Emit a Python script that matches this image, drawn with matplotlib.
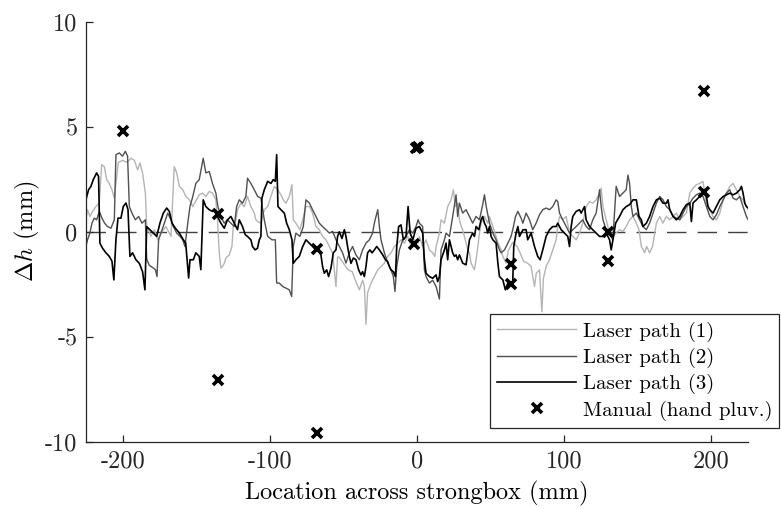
"""Surface height deviation across the strongbox: laser scans vs manual readings.

Writes out.png (781x509).
"""

import matplotlib

matplotlib.use("Agg")
import matplotlib.pyplot as plt

# --- laser path (1), light grey -------------------------------------------
x1 = [-225, -223.9, -222.3, -220.5, -218.2, -215.9, -214.3, -212.5, -210.9, -209.1,
      -207.3, -205.7, -203, -200, -197, -194.4, -192.1, -189.9, -188.3, -186.5,
      -184.6, -183.7, -183, -180.8, -178.5, -176.2, -174, -170.6, -167.2, -165,
      -163.3, -161.5, -159.2, -157, -154.7, -152.4, -150, -148, -145.8, -143.5,
      -141.2, -139, -136.7, -135.6, -134.4, -133.3, -132.2, -131, -129.9, -127.6,
      -125.8, -124.9, -123.1, -122, -119.7, -117.4, -115.2, -112.9, -110.6, -109.5,
      -108.3, -106.1, -103.8, -101.5, -99.3, -97, -94.7, -92.5, -90.9, -89.1,
      -86.8, -85, -84.1, -82.3, -79.6, -77.7, -75.5, -73, -71, -69.8,
      -68.7, -66.4, -64.2, -61.9, -59.6, -57.4, -55.1, -54, -53, -50,
      -47, -44, -42, -39.2, -37, -35.8, -34.7, -33.6, -31.3, -29,
      -26.7, -24.5, -22.2, -19.9, -17.7, -15.4, -13.1, -10.8, -8.6, -6.3,
      -4, -1.8, 0.7, 1.6, 3.8, 6.1, 8.4, 10.6, 12, 13,
      15.2, 16.3, 18.6, 20.8, 23.1, 24.7, 26, 27.6, 28.8, 30,
      31, 33.3, 34.5, 35.6, 36.7, 37.8, 39, 40.1, 41.3, 42.4,
      43.5, 44.6, 45.8, 47, 48, 49.2, 51.5, 53.7, 55, 57.1,
      58.3, 59.4, 60.5, 62, 65, 68, 70, 72.4, 75.2, 77.5,
      79.8, 81, 83.2, 84.8, 85.9, 87.7, 90, 92.2, 94.5, 95.6,
      96.8, 99, 101.3, 103.6, 105.8, 108.1, 110.4, 112.6, 114.9, 117.2,
      119.4, 121.7, 124, 125.1, 126.3, 128.5, 130.8, 133, 135.3, 137.6,
      139.9, 142.1, 144.4, 146.7, 149, 150.8, 152.4, 154.6, 156, 158,
      160, 162.6, 164.9, 167, 169.4, 171.7, 174, 176.2, 178.5, 180.7,
      183, 185.3, 187.5, 189.8, 192, 194.3, 196.6, 198.9, 201.1, 203.4,
      205.7, 208, 210.2, 212.5, 214.7, 217, 219.3, 221.5, 223.8, 225]
y1 = [0.57, 1.05, 0.73, 0.97, 1.2, 1.37, 3.19, 3.1, 2.48, 2.3,
      2.0, 1.6, 3.3, 3.4, 3.3, 3.5, 3.4, 2.95, 3.27, 2.8,
      1.84, 0.25, 0.17, -0.22, 0.1, -0.38, -0.06, 0.25, -0.22, 3.1,
      2.8, 2.16, 2.0, 1.68, 1.52, 1.2, 1.5, 1.76, 1.84, 1.68,
      1.92, 1.84, 1.52, 0.57, -1.0, -1.73, -1.65, -1.5, -1.25, -1.1,
      -0.7, 0.25, 0.57, 1.05, 1.36, 1.2, 1.68, 1.2, 0.89, 0.57,
      0.49, 0.41, 1.05, 1.2, 1.68, 2.16, 2.0, 1.76, 1.52, 1.36,
      1.68, 2.24, 0.57, 0.41, 0.1, 0.57, 1.2, 1.2, 0.89, 0.57,
      0.25, 0.1, -0.22, -0.38, -0.7, -1.0, -2.6, -1.2, -1.2, -1.5,
      -1.8, -1.9, -2.3, -2.76, -2.3, -2.6, -4.4, -2.9, -2.44, -2.13,
      -1.81, -1.65, -1.49, -1.17, -1.0, -0.7, -0.54, -0.38, -0.54, -0.22,
      -0.7, -0.38, -0.54, -0.22, -0.7, -0.38, -0.86, -1.0, -1.17, -0.7,
      -0.06, 0.57, 0.41, 1.2, 1.52, 2.0, 1.2, 1.36, 0.57, 0.25,
      0.1, -0.54, -0.86, -1.0, -1.49, -1.65, -1.8, -1.33, -0.7, -0.06,
      0.41, 0.57, 0.73, 0.57, 0.41, 0.73, 0.25, -0.22, -0.54, -0.86,
      -1.17, -1.33, -1.49, -0.9, -0.5, -0.7, -1.0, -1.4, -1.5, -1.65,
      -2.6, -1.97, -1.81, -3.8, -2.2, -1.65, -1.33, -0.86, -0.38, 0.25,
      0.73, 0.57, 0.73, -0.06, -0.22, -0.38, -0.06, 0.41, 1.2, 1.44,
      1.36, 1.52, 1.84, 2.08, 1.2, 0.57, -0.06, -0.22, -0.06, 0.1,
      0.02, 0.25, 0.57, 0.73, 0.41, 0.1, -0.7, -1.0, -0.7, -1.0,
      -0.7, 0.41, 0.73, 0.41, 0.73, 0.57, 0.73, 0.89, 0.57, 0.73,
      0.89, 1.84, 2.08, 2.24, 2.3, 2.4, 1.36, 1.05, 0.73, 0.57,
      0.89, 1.52, 1.84, 2.16, 2.3, 2.0, 1.68, 1.52, 1.2, 1.05]

# --- laser path (2), dark grey --------------------------------------------
x2 = [-225, -223.9, -222.3, -220.9, -219.3, -217.7, -215.9, -214.1, -212.3, -210.3,
      -208, -205.7, -204.6, -202.3, -200.1, -198.2, -196.7, -195.5, -193.7, -191.4,
      -189.2, -186.9, -184.6, -183.7, -181.9, -179.6, -177.8, -176.7, -175.6, -174,
      -171.7, -169.4, -167.2, -165.6, -163.3, -161, -159.2, -157.7, -155.8, -154.3,
      -152.4, -150.3, -148, -145.3, -143.5, -141.2, -139, -136.7, -135.3, -133.3,
      -131, -128.8, -126.5, -124.2, -122.6, -120.8, -118.6, -116.3, -115.2, -112.9,
      -110.6, -108.3, -106.1, -103.8, -101.5, -98.6, -96.3, -95.4, -93.6, -91.3,
      -89.1, -86.8, -85.2, -84.1, -82.3, -79.6, -77.3, -75.5, -73.2, -71,
      -68.7, -66.4, -64.2, -61.9, -59.6, -57.4, -55.1, -52.8, -50.6, -49.4,
      -48.3, -46, -43.8, -41.5, -39.2, -37, -34.7, -32.4, -30.2, -29,
      -27.9, -26.7, -25.6, -24.5, -22.2, -19.9, -17.7, -16.1, -15, -13.8,
      -12, -9.7, -7.5, -5.2, -2.9, -0.7, 0.7, 1.6, 3.8, 5,
      6.1, 8.4, 10.6, 12.9, 15.2, 16.3, 18.6, 19.7, 22, 24.2,
      26.5, 27.6, 28.8, 31, 33.3, 35.6, 37.8, 40.1, 42.4, 44.6,
      45.8, 47, 49.2, 51.5, 53.7, 56, 57.1, 59.4, 61.7, 63.9,
      65.5, 66.9, 68.5, 70.7, 71.9, 74.1, 76.4, 78.6, 80.9, 83.2,
      85.4, 87.7, 90, 92.2, 94.5, 95.6, 96.8, 99, 101.3, 103.6,
      105.8, 108.1, 110.4, 112.6, 114.9, 117.2, 119.4, 121.7, 124, 125.1,
      126.3, 128.5, 130.8, 133, 135.3, 137.6, 139.9, 142.1, 143.3, 144.4,
      145.6, 146.7, 149, 151.2, 153.5, 155.8, 158, 160.3, 162.6, 164.9,
      167.1, 169.4, 171.7, 174, 176.2, 178.5, 180.7, 183, 185.3, 187.5,
      189.8, 192, 194.3, 196.6, 198.9, 201.1, 203.4, 205.7, 208, 210.2,
      212.5, 214.7, 217, 219.3, 221.5, 223.8, 225]
y2 = [-0.7, -0.38, -0.06, 0.41, 0.65, 0.57, 0.97, 0.65, 0.41, 0.25,
      0.17, 0.57, 3.67, 3.75, 3.6, 3.83, 3.6, 1.2, 0.89, 0.57,
      0.73, 0.41, 0.57, -1.3, -1.6, -1.7, -1.8, -2.13, -0.38, -0.06,
      0.41, 0.89, 0.57, 0.25, -0.06, -0.22, -0.38, -0.7, 0.41, 1.2,
      1.68, 2.3, 2.48, 3.5, 2.8, 2.87, 2.3, 1.84, 1.2, 0.73,
      0.41, 0.57, 0.41, 0.25, 1.2, 1.52, 1.36, 1.68, 2.55, 2.3,
      2.0, 1.68, 1.6, 0.57, -0.22, -0.38, -0.38, -2.44, -2.44, -2.6,
      -2.68, -2.76, -3.08, -0.7, -0.06, -0.22, 0.25, 1.52, 1.37, 1.05,
      0.73, 0.41, 0.25, 0.1, -0.06, 0.02, -0.38, -0.7, -1.0, -1.25,
      -1.49, -1.0, -0.7, -1.1, -1.33, -0.86, -0.54, -0.38, -0.06, 0.41,
      0.73, 1.05, 0.25, -0.38, -1.0, -1.49, -1.81, -2.13, -2.84, -1.65,
      -0.86, -0.38, -0.22, 0.1, -0.06, 0.25, 0.57, 0.41, 0.25, -1.8,
      -2.13, -2.44, -2.3, -2.6, -3.2, -0.86, -0.38, -0.06, -0.22, 0.73,
      1.76, 0.73, 1.36, 0.89, 1.05, 0.73, 0.41, 0.73, 0.57, 1.29,
      1.76, 1.2, 0.41, -0.06, -0.38, -0.86, -1.0, -0.86, -0.54, -0.22,
      0.25, 0.73, 0.97, 0.65, 0.41, 0.89, 0.57, 0.1, 0.41, 0.81,
      1.05, 1.13, 1.05, 1.2, 1.52, 1.44, 0.89, 0.57, 0.25, -0.06,
      0.1, 0.25, 0.41, 0.57, 0.25, 0.1, 0.57, 0.89, 2.0, 1.2,
      0.57, 0.1, -0.06, -0.38, 2.16, 1.68, 1.84, 2.0, 2.7, 2.3,
      1.2, 0.73, 0.89, 0.57, 0.25, 0.1, 0.41, 0.89, 1.36, 1.68,
      1.52, 1.2, 1.05, 0.73, 0.65, 0.57, 0.89, 1.2, 1.36, 1.6,
      1.76, 1.84, 1.68, 1.2, 0.73, 0.57, 0.81, 1.2, 1.52, 1.84,
      2.0, 1.6, 1.52, 1.68, 1.2, 0.73, 0.57]

# --- laser path (3), black ------------------------------------------------
x3 = [-225, -223.2, -221.6, -220, -217.7, -216.4, -215.5, -213.7, -211.4, -209.1,
      -207.3, -206, -204.6, -203.2, -201.2, -199.6, -197.8, -196.4, -195.1, -193.3,
      -191, -188.7, -186.5, -184.9, -183.7, -181.5, -179.2, -176.9, -174.7, -172.4,
      -170.1, -168.3, -166.5, -164.2, -161.5, -158.8, -157.2, -155.2, -154.3, -152,
      -150.3, -148, -146.9, -145.3, -143.5, -141.2, -139, -137.8, -135.6, -133.3,
      -131, -128.8, -126.5, -124.2, -122, -120.8, -118.6, -116.7, -115.2, -112.9,
      -111.8, -110, -108.4, -107.2, -106.1, -105.4, -103.8, -101.5, -99.3, -97.7,
      -96.3, -95.4, -94.5, -92.5, -90.2, -88.6, -86.8, -85, -84.1, -82.3,
      -80, -77.7, -75.5, -73.2, -71, -68.7, -66.4, -65.3, -64.2, -63,
      -61.4, -60.1, -58.5, -56.9, -55.1, -54, -52.8, -51, -49.4, -48.3,
      -47.2, -46, -44.9, -43.3, -41.5, -39.7, -38.1, -37, -35.8, -34.7,
      -33.6, -32, -30.6, -29, -27.4, -25.6, -23.3, -21.5, -20, -18.8,
      -17.7, -16.1, -14.7, -13.8, -12.5, -10.9, -9.3, -7.5, -6.1, -4.7,
      -2.9, -0.7, 1.6, 3.8, 5, 6.1, 8.4, 10.6, 12.9, 14,
      15.2, 16.3, 18.6, 19.7, 20.8, 22, 23.1, 24.2, 25.4, 26.5,
      27.6, 28.8, 31, 33.3, 34.4, 35.6, 37.8, 39, 40.1, 42,
      43.5, 44.6, 45.8, 47, 48, 49.2, 50.3, 51.5, 53.7, 54.9,
      56, 58.3, 60, 61.7, 62.8, 65, 65.7, 67.3, 68.5, 69.6,
      72, 74.1, 75.2, 77.5, 79.8, 82, 83.6, 85.4, 87.7, 90,
      92.2, 94.5, 95.6, 97.9, 100.2, 102.4, 103.6, 104.7, 105.8, 108.1,
      110.4, 111.5, 113.8, 114.9, 117.2, 119.4, 121.7, 124, 126.3, 128.5,
      130.8, 131.9, 133.5, 134.9, 137.6, 139.9, 142.1, 144.4, 146.7, 149,
      150.8, 152.4, 153.5, 155.8, 158, 160.3, 162.6, 164.9, 167.1, 169.4,
      170.5, 171.7, 174, 176.2, 178.5, 180.7, 183, 185.3, 186.4, 187.5,
      189.8, 192, 194.3, 196.6, 197.7, 198.9, 201.1, 203.4, 205.7, 208,
      210.2, 212.5, 214.7, 217, 219.3, 220.4, 221.5, 222.7, 223.8, 225]
y3 = [1.52, 2.0, 2.16, 2.48, 2.8, 2.63, -0.54, -0.78, -1.0, -1.17,
      -1.4, -2.29, -0.38, 0.65, 0.65, 1.2, 1.37, 1.05, -1.17, -1.0,
      -1.33, -1.5, -1.9, -2.76, 0.25, 0.1, -0.06, -0.22, 0.41, 0.89,
      1.13, 0.97, 0.41, 0.17, -0.06, -0.38, -0.54, -2.2, -1.33, -1.33,
      -1.0, -1.17, -1.8, 1.52, 1.2, 1.05, 0.97, 1.05, 0.73, 0.41,
      0.17, 0.57, 0.73, 0.41, 0.1, 0.57, 0.25, -0.14, -0.22, -0.38,
      -0.7, -0.86, -0.78, -0.38, -0.22, 1.6, 2.0, 2.4, 2.3, 2.48,
      2.4, 3.67, 1.2, 1.05, 0.89, 0.41, 0.1, -0.38, -1.5, -1.33,
      -1.17, -0.7, -0.38, -0.54, -0.7, -0.86, -0.94, -1.1, -1.65, -1.97,
      -1.81, -2.13, -1.73, -1.0, -0.86, -0.22, 0.0, -0.32, 0.1, -0.22,
      -0.7, -1.17, -1.5, -1.25, -1.33, -1.81, -2.05, -1.9, -2.13, -1.65,
      -1.0, -0.86, -1.0, -0.86, -0.7, -0.86, -1.1, -1.33, -1.41, -1.65,
      -1.81, -1.9, -2.13, -0.7, 0.25, 0.33, -0.38, -0.22, 1.2, -0.06,
      -0.38, 0.17, 0.25, -0.06, -1.33, -1.97, -2.13, -2.21, -2.05, -2.37,
      -2.13, -1.33, -0.86, -0.54, -1.33, -0.38, -0.7, -1.0, -1.17, -1.1,
      -1.33, -1.1, -1.49, -1.57, -1.0, -0.38, -0.06, -0.22, 0.25, 0.1,
      0.57, 0.73, 0.41, 0.25, -0.06, 0.25, -0.22, -0.38, -0.54, -1.49,
      -2.13, -2.29, -2.76, -2.44, -2.6, -2.44, -0.7, -0.06, 0.25, -0.22,
      0.1, 0.1, -0.38, -0.06, -0.7, -1.17, -1.33, -0.86, -0.22, 0.1,
      0.25, 0.25, 0.41, 0.1, -0.06, -0.22, -0.7, 0.25, 0.73, 0.97,
      1.05, 0.89, 1.2, 0.57, 0.25, 0.1, -0.06, -0.22, -0.22, -0.06,
      -0.38, -0.86, -0.22, 0.41, 0.73, 1.05, 1.2, 1.29, 1.52, 1.52,
      0.73, 0.57, 0.25, 0.41, 0.73, 1.2, 1.52, 1.6, 1.36, 1.36,
      1.52, 1.05, 0.73, 0.57, 0.73, 1.05, 1.29, 1.37, 0.49, 1.37,
      1.52, 1.68, 1.84, 1.68, 1.2, 1.05, 0.89, 1.2, 1.52, 1.68,
      1.76, 1.84, 1.76, 1.84, 2.0, 2.16, 1.84, 1.36, 1.2, 1.13]

# --- manual measurements (hand pluviation) --------------------------------
x_manual = [-200, -135, -135, -68, -68, -0.5, 0.5, -2, 64, 64, 130, 130, 195, 195]
y_manual = [4.8, 0.85, -7.05, -0.8, -9.55, 4.0, 4.05, -0.6, -1.55, -2.5, 0.0, -1.4, 6.7, 1.9]

labels = ["Laser path (1)", "Laser path (2)", "Laser path (3)", "Manual (hand pluv.)"]
xticks = [-200, -100, 0, 100, 200]
yticks = [-10, -5, 0, 5, 10]

AXIS_GREY = "#262626"


def main() -> None:
    plt.rcParams["font.family"] = ["cmr10", "DejaVu Serif"]
    plt.rcParams["mathtext.fontset"] = "cm"
    plt.rcParams["axes.unicode_minus"] = False

    fig = plt.figure(figsize=(7.81, 5.09), dpi=100)
    ax = fig.add_axes([0.110, 0.1316, 0.848, 0.826])

    ax.plot(x1, y1, color="#b4b4b4", lw=1.0, label=labels[0])
    ax.plot(x2, y2, color="#505050", lw=1.0, label=labels[1])
    ax.plot(x3, y3, color="black", lw=1.2, label=labels[2])
    ax.axhline(0, color="#404040", lw=1.0, dashes=(14, 8), zorder=1.5)
    ax.plot(x_manual, y_manual, ls="none", marker="x", ms=7, mew=2.6,
            color="black", label=labels[3])

    ax.set_xlim(-225, 225)
    ax.set_ylim(-10, 10)
    ax.set_xticks(xticks)
    ax.set_yticks(yticks)
    ax.tick_params(direction="in", length=5, width=0.9, colors=AXIS_GREY,
                   labelsize=17.5, pad=6)
    for side in ("top", "right"):
        ax.spines[side].set_visible(False)
    for side in ("left", "bottom"):
        ax.spines[side].set_color(AXIS_GREY)
        ax.spines[side].set_linewidth(0.9)

    ax.set_xlabel("Location across strongbox (mm)", fontsize=17.5, labelpad=6)
    ax.set_ylabel(r"$\Delta h$ (mm)", fontsize=17.5, labelpad=2)

    leg = ax.legend(loc="lower right", bbox_to_anchor=(1.047, 0.033),
                    fontsize=15, frameon=True, fancybox=False, framealpha=1,
                    edgecolor=AXIS_GREY, handlelength=3.8, handletextpad=0.3,
                    labelspacing=0.3, borderpad=0.35, borderaxespad=0)
    leg.get_frame().set_linewidth(0.9)

    fig.savefig("out.png", dpi=100)


if __name__ == "__main__":
    main()
